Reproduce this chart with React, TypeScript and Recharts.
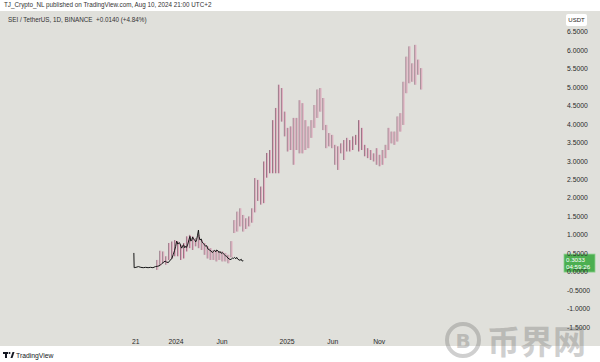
import React from 'react';
import { Bar, ComposedChart, Line, ReferenceLine, XAxis, YAxis } from 'recharts';

// black price line, days counted from 2024-01-01
const lineDays = [
  -139, -138, -132, -124, -116, -108, -100, -92, -84, -76, -68, -60, -53, -47, -42, -36, -31, -25, -20, -14,
  -9, -5, -1, 2, 6, 10, 13, 16, 19, 22, 25, 29, 32, 35, 39, 43, 46, 49, 52, 55, 58, 62, 65, 68, 71, 74, 76,
  79, 83, 86, 90, 94, 98, 101, 105, 109, 112, 116, 120, 123, 127, 131, 134, 138, 142, 145, 149, 153, 156,
  160, 164, 167, 171, 175, 178, 182, 186, 189, 193, 197, 200, 204, 208, 211, 215, 218, 222,
];
const linePrices = [
  0.51, 0.11, 0.12, 0.14, 0.12, 0.11, 0.12, 0.11, 0.12, 0.11, 0.14, 0.15, 0.17, 0.22, 0.25, 0.29, 0.26, 0.25,
  0.31, 0.35, 0.47, 0.57, 0.69, 0.83, 0.75, 0.79, 0.77, 0.69, 0.64, 0.71, 0.73, 0.65, 0.69, 0.66, 0.75, 0.88,
  0.96, 0.83, 0.87, 0.94, 0.89, 0.85, 0.81, 0.87, 0.99, 1.13, 0.96, 0.86, 0.89, 0.81, 0.77, 0.73, 0.69, 0.71,
  0.62, 0.6, 0.58, 0.56, 0.52, 0.55, 0.58, 0.54, 0.59, 0.57, 0.52, 0.55, 0.5, 0.52, 0.49, 0.46, 0.43, 0.42,
  0.37, 0.35, 0.33, 0.34, 0.37, 0.36, 0.39, 0.35, 0.39, 0.34, 0.32, 0.31, 0.34, 0.29, 0.3,
];

// projected bars pattern (pink)
const barHighs = [
  0.32, 0.57, 0.55, 0.42, 0.78, 0.82, 0.86, 0.82, 0.73, 0.78, 0.96, 1.0, 0.96, 0.91, 1.0, 0.86, 0.78, 0.69,
  0.64, 0.59, 0.59, 0.55, 0.55, 0.51, 0.46, 0.83, 1.4, 1.63, 1.72, 1.54, 1.45, 1.5, 1.72, 2.54, 2.49, 2.31,
  2.99, 3.22, 3.3, 4.11, 4.44, 5.07, 4.98, 4.34, 3.9, 3.94, 4.17, 4.17, 4.65, 4.57, 4.11, 3.94, 4.11, 4.52,
  4.94, 4.98, 4.71, 3.98, 3.76, 3.71, 3.44, 3.4, 3.48, 3.57, 3.63, 3.57, 3.67, 3.71, 4.11, 3.9, 3.44,
  3.35, 3.3, 3.21, 3.35, 3.17, 3.3, 3.44, 3.9, 3.8, 3.8, 4.21, 4.3, 5.15, 5.83, 6.11, 5.65, 6.15,
  5.75, 5.52,
];
const barLows = [
  0.05, 0.16, 0.23, 0.19, 0.32, 0.36, 0.42, 0.42, 0.32, 0.36, 0.55, 0.64, 0.59, 0.69, 0.64, 0.59, 0.46, 0.36,
  0.32, 0.32, 0.28, 0.32, 0.28, 0.28, 0.23, 0.39, 1.05, 1.09, 1.23, 1.09, 1.16, 1.23, 1.33, 1.61, 1.92, 1.82,
  1.86, 2.55, 2.67, 2.67, 2.67, 2.67, 4.07, 3.67, 3.26, 3.3, 2.9, 3.3, 3.21, 3.21, 3.3, 3.35, 3.63, 3.9,
  4.17, 4.34, 3.84, 3.35, 3.4, 3.35, 2.9, 2.76, 3.21, 3.03, 3.26, 3.26, 3.3, 3.44, 3.26, 3.3, 3.13, 3.08,
  3.03, 2.99, 2.9, 2.86, 2.9, 3.08, 3.3, 3.48, 3.44, 3.53, 3.8, 3.98, 4.84, 5.11, 5.15, 5.07, 5.34, 4.94,
];
const barStartDay = -61.7;
const barStepDays = 9.78;

const timeTicks = [-133, 0, 152, 366, 517, 670];
const timeLabels = ['21', '2024', 'Jun', '2025', 'Jun', 'Nov'];
const priceTicks = [-1.5, -1, -0.5, 0, 0.5, 1, 1.5, 2, 2.5, 3, 3.5, 4, 4.5, 5, 5.5, 6, 6.5];

const lastPrice = 0.3033;
const countdown = '04:59:26';

const rows = [
  ...lineDays.map((day, i) => ({ day, price: linePrices[i] })),
  ...barHighs.map((hi, i) => ({ day: barStartDay + i * barStepDays, range: [barLows[i], hi] })),
].sort((a, b) => a.day - b.day);

const font = '"Liberation Sans", Arial, sans-serif';

function BarShape(props: any) {
  const { x, y, width, height, payload } = props;
  if (!payload || !payload.range) return <g />;
  const cx = x + width / 2;
  return (
    <g>
      <rect x={cx - 1} y={y} width={1} height={height} fill='#957483' />
      <rect x={cx} y={y} width={1} height={height} fill='#e2a8bd' />
    </g>
  );
}

function PriceTick(props: any) {
  const { y, payload } = props;
  return (
    <text x={567} y={y} dominantBaseline='central' fontSize={6.8} fill='#2a2a2a' fontFamily={font}>
      {payload.value.toFixed(4)}
    </text>
  );
}

function TimeTick(props: any) {
  const { x, payload } = props;
  const label = timeLabels[timeTicks.indexOf(payload.value)];
  return (
    <text x={x} y={333} textAnchor='middle' fontSize={6.8} fill='#2a2a2a' fontFamily={font}>
      {label}
    </text>
  );
}

function PriceTag(props: any) {
  const top = props.viewBox.y - 6.5;
  return (
    <g>
      <rect x={564} y={top} width={31} height={18} fill='#4caf50' stroke='#8fd08f' strokeWidth={0.8} />
      <text x={566} y={top + 5} dominantBaseline='central' fontSize={6.2} fill='#fff' fontFamily={font}>
        {lastPrice.toFixed(4)}
      </text>
      <text x={566} y={top + 12.5} dominantBaseline='central' fontSize={6.2} fill='#fff' fontFamily={font}>
        {countdown}
      </text>
    </g>
  );
}

export default function App() {
  return (
    <div style={{ position: 'relative', width: 600, height: 362, background: '#fff', overflow: 'hidden', fontFamily: font }}>
      <style>{'body{margin:0}'}</style>
      <div style={{ position: 'absolute', left: 4, top: 1, fontSize: 6.3, color: '#333', whiteSpace: 'nowrap' }}>
        TJ_Crypto_NL published on TradingView.com, Aug 10, 2024 21:00 UTC+2
      </div>
      <div style={{ position: 'absolute', left: 0, top: 11, width: 600, height: 335, background: '#e0e0db' }}>
        <ComposedChart width={600} height={335} data={rows} margin={{ top: 0, right: 0, bottom: 0, left: 0 }}>
          <XAxis
            dataKey='day'
            type='number'
            domain={[-580.3, 1252.9]}
            allowDataOverflow
            ticks={timeTicks}
            interval={0}
            height={12}
            axisLine={false}
            tickLine={false}
            tick={<TimeTick />}
          />
          <YAxis
            orientation='right'
            type='number'
            domain={[-1.687, 7.068]}
            allowDataOverflow
            ticks={priceTicks}
            interval={0}
            width={44}
            axisLine={false}
            tickLine={false}
            tick={<PriceTick />}
          />
          <Bar dataKey='range' shape={<BarShape />} isAnimationActive={false} />
          <Line
            dataKey='price'
            type='linear'
            stroke='#151515'
            strokeWidth={1}
            dot={false}
            connectNulls
            isAnimationActive={false}
          />
          <ReferenceLine y={lastPrice} stroke='none' label={<PriceTag />} />
        </ComposedChart>
        <div style={{ position: 'absolute', left: 8, top: 5, fontSize: 6.3, color: '#333', whiteSpace: 'nowrap' }}>
          SEI / TetherUS, 1D, BINANCE&nbsp;&nbsp;+0.0140 (+4.84%)
        </div>
        <div
          style={{
            position: 'absolute', left: 566, top: 3, width: 21, height: 12, background: '#fff', borderRadius: 2,
            fontSize: 6, color: '#222', textAlign: 'center', lineHeight: '12px',
          }}
        >
          USDT
        </div>
      </div>
      <svg width={600} height={362} style={{ position: 'absolute', left: 0, top: 0, pointerEvents: 'none' }}>
        <g opacity={0.32}>
          <circle cx={463} cy={340} r={16} fill='none' stroke='#6b6b6b' strokeWidth={4} />
          <text x={463} y={341} textAnchor='middle' dominantBaseline='central' fontSize={20} fontWeight='bold' fill='#6b6b6b' fontFamily='"DejaVu Sans", sans-serif'>
            B
          </text>
          <text x={487} y={354} fontSize={33} fontWeight='bold' fill='#6b6b6b' fontFamily='"Noto Sans CJK SC", sans-serif'>
            币界网
          </text>
        </g>
        <g fill='#131722'>
          <rect x={3} y={352} width={5} height={2} />
          <rect x={5} y={352} width={2} height={6} />
          <circle cx={9.5} cy={353} r={1} />
          <path d='M10.5 358 L12.5 352 L14.5 352 L12.5 358 Z' />
        </g>
        <text x={16} y={355.5} dominantBaseline='central' fontSize={6.8} fill='#131722' fontFamily={font}>
          TradingView
        </text>
      </svg>
    </div>
  );
}
